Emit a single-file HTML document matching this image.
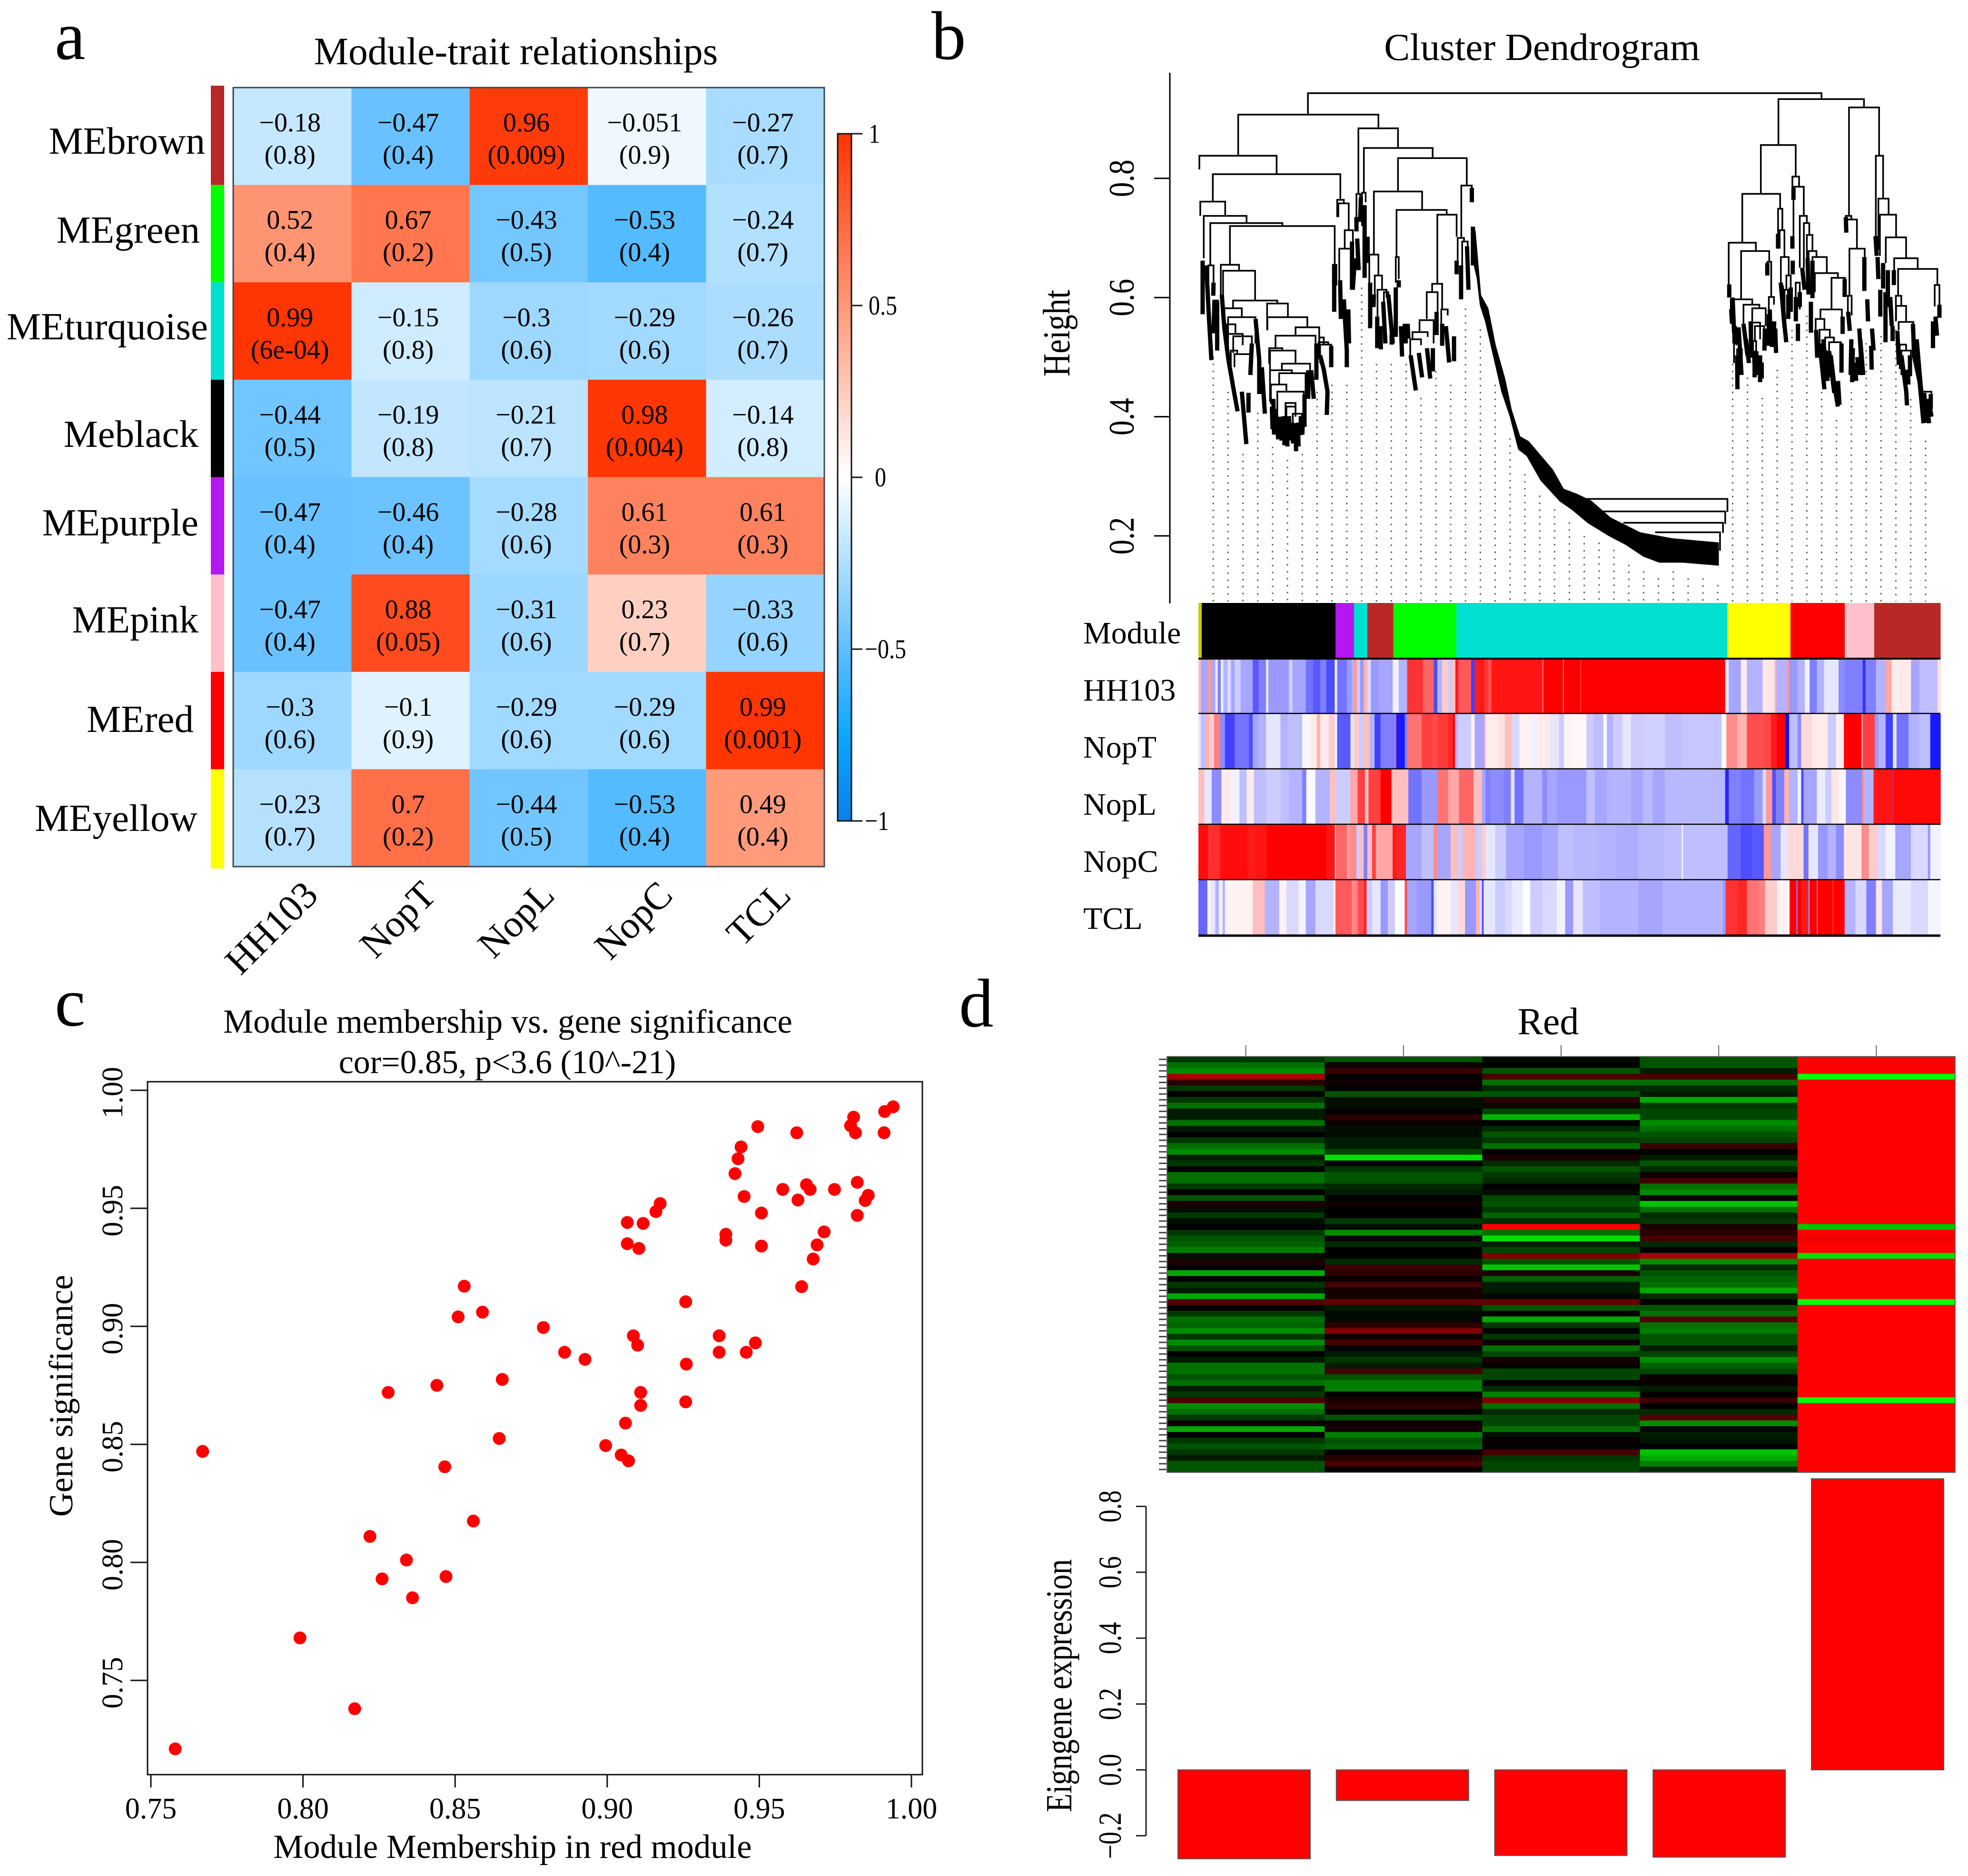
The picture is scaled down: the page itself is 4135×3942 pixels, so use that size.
<!DOCTYPE html>
<html>
<head>
<meta charset="utf-8">
<title>Module-trait figure</title>
<style>
html,body{margin:0;padding:0;background:#fff;}
svg{display:block;}
text{font-family:"Liberation Serif",serif;fill:#000;}
</style>
</head>
<body>
<svg id="fig" xmlns="http://www.w3.org/2000/svg" width="4135" height="3942" viewBox="0 0 4135 3942">
<rect x="0" y="0" width="4135" height="3942" fill="#fff"/>
<text x="115" y="124" font-size="145">a</text>
<text x="1957" y="124" font-size="145">b</text>
<text x="115" y="2155" font-size="145">c</text>
<text x="2015" y="2157" font-size="145">d</text>

<g id="panelA">
<text x="1084" y="135" font-size="81.5" text-anchor="middle">Module-trait relationships</text>
<text x="431" y="323" font-size="81" text-anchor="end">MEbrown</text>
<text x="420" y="510" font-size="81" text-anchor="end">MEgreen</text>
<text x="437" y="713" font-size="81" text-anchor="end">MEturquoise</text>
<text x="417" y="939" font-size="81" text-anchor="end">Meblack</text>
<text x="417" y="1125" font-size="81" text-anchor="end">MEpurple</text>
<text x="417" y="1329" font-size="81" text-anchor="end">MEpink</text>
<text x="407" y="1538" font-size="81" text-anchor="end">MEred</text>
<text x="415" y="1746" font-size="81" text-anchor="end">MEyellow</text>
</g>
<g id="panelB">
<text x="3240" y="126" font-size="81" text-anchor="middle">Cluster Dendrogram</text>
<text transform="translate(2247,700) rotate(-90) scale(1,1.2)" font-size="67" text-anchor="middle">Height</text>
</g>
<g id="panelC">
<text x="1067" y="2170" font-size="70.7" text-anchor="middle">Module membership vs. gene significance</text>
<text x="1066" y="2255" font-size="70" text-anchor="middle">cor=0.85, p&lt;3.6 (10^-21)</text>
<text x="1077" y="3904" font-size="70.7" text-anchor="middle">Module Membership in red module</text>
<text transform="translate(152,2933) rotate(-90)" font-size="70.7" text-anchor="middle">Gene significance</text>
</g>
<g id="panelD">
<text x="3253" y="2173" font-size="80" text-anchor="middle">Red</text>
<text transform="translate(2251,3542) rotate(-90) scale(1,1.2)" font-size="64" text-anchor="middle">Eigngene expression</text>
</g>
</svg>
<script>
/* ---------- panel a data ---------- */
const moduleNames = ['MEbrown','MEgreen','MEturquoise','Meblack','MEpurple','MEpink','MEred','MEyellow'];
const moduleColors = ['#ba2727','#00ff00','#00e0d0','#000000','#b417f0','#ffc0cb','#ff0000','#ffff00'];
const traitNames = ['HH103','NopT','NopL','NopC','TCL'];
const corrValues = [
[-0.18,-0.47,0.96,-0.051,-0.27],
[0.52,0.67,-0.43,-0.53,-0.24],
[0.99,-0.15,-0.3,-0.29,-0.26],
[-0.44,-0.19,-0.21,0.98,-0.14],
[-0.47,-0.46,-0.28,0.61,0.61],
[-0.47,0.88,-0.31,0.23,-0.33],
[-0.3,-0.1,-0.29,-0.29,0.99],
[-0.23,0.7,-0.44,-0.53,0.49]];
const pValues = [
['0.8','0.4','0.009','0.9','0.7'],
['0.4','0.2','0.5','0.4','0.7'],
['6e-04','0.8','0.6','0.6','0.7'],
['0.5','0.8','0.7','0.004','0.8'],
['0.4','0.4','0.6','0.3','0.3'],
['0.4','0.05','0.6','0.7','0.6'],
['0.6','0.9','0.6','0.6','0.001'],
['0.7','0.2','0.5','0.4','0.4']];
const colorbarTicks = [1,0.5,0,-0.5,-1];
const colorbarTickLabels = ['1','0.5','0','\u22120.5','\u22121'];

/* ---------- panel b data ---------- */
const heightTicks = [0.2,0.4,0.6,0.8];
const heightTickLabels = ['0.2','0.4','0.6','0.8'];
/* links: left leaf, right leaf, merge height, left leg bottom height, right leg bottom height */
const dendroLinks = [
[147.6,839.8,.943,.907,.933],[53.6,242.6,.907,.838,.884],[1.3,105.4,.838,.815,.807],[19.4,191.3,.807,.761,.764],
[2.5,36.1,.761,.737,.737],[7.2,64.9,.737,.666,.725],[16,113.2,.725,.654,.72],[42.5,183.7,.72,.655,.655],
[30.2,54.8,.655,.605,.645],[33.2,76.4,.645,.582,.595],[46.7,106.3,.595,.582,.59],[92.6,120.6,.59,.545,.567],
[93,146.8,.567,.545,.55],[130.9,162.8,.55,.536,.523],[103.9,157.9,.536,.515,.519],[95.3,113.2,.515,.489,.511],
[96.5,130.9,.511,.478,.489],[112.5,150.5,.489,.478,.478],[96.5,126,.478,.425,.473],[108.8,144.4,.473,.454,.43],
[97.7,118.6,.454,.421,.442],[106.3,141.9,.442,.385,.385],[117.4,130.9,.423,.38,.41],[118.6,130.9,.417,.37,.40],
[127.2,139.5,.405,.36,.37],[35.1,58.5,.582,.548,.567],[40,76.9,.567,.531,.523],[38.3,49.9,.555,.53,.54],
[40,59.7,.539,.50,.52],[46.9,72,.535,.507,.523],[43.7,52.3,.511,.48,.505],[48.6,69.5,.505,.483,.47],
[13.5,20.4,.654,.564,.625],[20.4,26.5,.595,.54,.544],[181.2,186,.655,.62,.62],[163,169,.533,.52,.52],
[162,175,.525,.5,.52],[164,179,.521,.49,.519],
[215.6,269,.884,.774,.851],[223,315.7,.851,.776,.834],[269,361.7,.834,.778,.788],[236.5,301.5,.778,.672,.747],
[267,334.6,.747,.668,.739],[322,348,.739,.623,.702],[230.3,242.6,.672,.613,.637],[237.7,247.5,.637,.605,.613],
[241.4,253.6,.613,.56,.60],[250,256,.609,.58,.59],[266,270,.668,.625,.631],[315,328.5,.623,.609,.58],
[307.7,322.4,.609,.564,.576],[298,317,.562,.542,.523],[288.5,309,.542,.53,.534],[285.5,300,.53,.50,.52],
[327.3,336,.58,.556,.57],[354.3,368.5,.788,.70,.782],[349.4,358,.70,.662,.694],[355.5,363,.694,.65,.68],
[213,218,.774,.73,.727],[220.5,225.4,.776,.72,.76],[187,196,.764,.735,.758],[188.6,202.6,.758,.735,.713],
[197.2,208.2,.713,.682,.694],[189.8,205.8,.682,.629,.67],
[781.7,897,.933,.856,.919],[876.8,917.4,.919,.737,.838],[758,805,.856,.774,.803],[800.5,809.5,.803,.764,.786],
[802,815.9,.786,.70,.737],[733,784,.774,.692,.749],[714.7,751.3,.692,.621,.678],[731.4,769.3,.678,.597,.66],
[717.5,746.4,.597,.568,.588],[734.6,756,.588,.556,.582],[746.4,764.6,.582,.56,.552],[746.4,757,.558,.52,.53],
[750,762.4,.552,.527,.511],[747.5,751.7,.527,.49,.50],[766.7,772,.66,.637,.601],[768.8,775.7,.601,.572,.588],
[721.8,728.2,.523,.49,.513],[726,732.5,.513,.48,.49],[720.7,725,.548,.523,.52],[781.2,787,.749,.707,.713],
[783.4,789.8,.713,.682,.668],[785,795.6,.668,.625,.637],[792.4,798.3,.637,.613,.584],[790,794.5,.613,.56,.58],
[805,810.5,.625,.60,.58],[810.5,820,.737,.65,.725],[816,823.3,.725,.65,.705],[820,827.6,.705,.65,.678],
[822.3,833,.678,.63,.668],[827.6,846.9,.668,.621,.641],[830.8,861.8,.641,.609,.633],[853.3,871.5,.633,.58,.601],
[838.3,867.2,.58,.564,.54],[831.9,843.7,.564,.546,.546],[837.2,851,.546,.52,.533],[844.7,856.5,.533,.50,.525],
[850,866,.525,.49,.50],[872.5,880,.737,.709,.731],[874,887.5,.731,.709,.682],[877.4,898,.682,.603,.668],
[875.3,880.4,.603,.56,.57],[916.4,930.2,.766,.68,.739],[913,922.8,.838,.702,.766],[918.5,940.3,.739,.67,.701],
[926.4,953.8,.701,.658,.666],[937.7,969.4,.666,.621,.648],[943,995.9,.648,.603,.621],[940,947.3,.603,.56,.586],
[940.3,953.8,.586,.562,.559],[943.7,963.4,.559,.545,.503],[945.2,953.8,.521,.48,.511],[947.4,960.2,.511,.47,.48],
[975,987.9,.442,.425,.413],[992.3,998.7,.621,.585,.568],
[522.5,713,.262,.262,.24],[544,710,.241,.241,.22],[572.6,707,.222,.222,.205],[615.5,703,.206,.206,.175]
];
/* dense leaf clusters: leaf,height,leaf,height... */
const dendroTufts = [
[5.7,.662,5.7,.572],[10.6,.654,14.3,.564,17.5,.495],[20.4,.625,20,.603],[21.6,.595,20.4,.540],[25.3,.593,25.3,.511],
[31.5,.605,35,.548,40.5,.495,47.4,.446,52.8,.409],[58.5,.442,64.6,.354],[72,.523,70,.470],[77,.564,82,.495,82,.438],
[85.5,.483,89.6,.405],[67.5,.440,67.5,.407],[99,.417,100,.379],[104,.413,107.6,.362],[115,.401,116,.352],
[122,.401,123.5,.360],[131,.389,131.6,.342],[138,.401,138,.369],[143,.437,143,.383],[148,.478,148,.430],
[101,.43,102,.37],[110,.40,112,.36],[119,.40,120,.35],[127,.39,127.5,.355],[134,.39,135,.35],[141,.40,140,.37],
[152,.478,155.5,.430],[159,.523,159,.462],[164,.503,169,.479,174,.442,173,.403],[179,.519,179,.483],[183,.654,183,.576],
[191,.629,192,.564],[196,.597,200,.511,200,.483],[202,.580,203,.523],[207,.694,207,.613],[211,.666,208,.613],
[213,.735,213,.711],[214,.699,216,.646],[219,.768,218,.727],[224,.755,224,.633],[228,.702,228,.658],
[231.5,.625,231.5,.552,234,.552],[236.5,.605,236,.584],[241,.568,241,.515],[245,.552,246,.513],[249,.593,252,.523],
[256,.605,262,.523],[260.5,.539,260.5,.521],[266,.617,266,.534],[270,.629,270,.617],[273,.552,274.5,.501],
[278,.556,279.5,.523],[282,.556,283,.531],[286,.503,293,.444],[297,.507,301.5,.466],[308,.515,312.5,.464],
[316,.515,316,.476],[321,.576,321,.537],[328.5,.556,328.5,.519],[333.5,.552,338,.491],[344.5,.535,344.5,.493],
[348,.662,348,.639],[354,.654,354,.597],[362,.686,364,.613],[368.5,.784,368.5,.760],[370,.719,370,.654],
[715.4,.622,715.4,.600],[718,.580,719.2,.556],[722.9,.552,724,.523],[726,.503,726.5,.446],[730.3,.511,730.3,.470],
[720,.60,722,.54],[728,.55,732,.47],[738,.53,742,.49],[752,.51,752,.47],[770,.58,771,.53],[776,.56,775,.52],[786,.62,790,.55],
[734.6,.556,740,.503],[744.2,.560,745.3,.499],[749.6,.511,749.6,.466],[757,.503,757,.458],[759.2,.491,759.2,.464],
[763.5,.548,762.8,.511],[768.8,.572,768.8,.519],[773,.548,773,.517],[777.4,.548,778.5,.507],[766.7,.658,766.7,.637],
[781.2,.707,781.2,.682],[784.9,.625,789,.564,792.3,.525],[795,.605,795,.564],[798.3,.617,798.3,.576],[802,.784,802,.764],
[800.5,.703,800.5,.682],[801,.662,801,.639],[805.2,.601,805.2,.560],[808,.556,808,.527],[810.5,.609,810.5,.584],
[813.7,.650,817,.613],[821,.666,822.3,.605],[825.5,.593,825.5,.541],[827.6,.662,827.6,.599],[832.5,.546,834,.499],
[842,.53,848,.46],[850,.51,857,.44],[862,.46,864,.42],[880,.53,879,.47],[888,.50,890,.47],[892,.53,896,.47],
[837.2,.523,843.7,.446],[846.9,.511,849,.466],[852.2,.503,856.5,.458,861.8,.417],[866.7,.523,866.7,.474],[868.2,.568,868.2,.539],
[871,.631,871,.601],[872.5,.735,873.2,.709],[875.7,.576,877.9,.544],[882,.515,881,.458],[885.4,.491,886.4,.460],
[890.7,.548,894.5,.470],[897.5,.668,897.5,.611],[901.4,.597,902.5,.560],[907.8,.548,910,.511],[906.7,.519,907.4,.479],
[912.5,.703,914.2,.670],[915.3,.668,916.4,.631],[919,.613,919,.568],[922.8,.658,922.8,.615],[926,.609,926,.525],
[929.2,.646,929.2,.584],[932.4,.601,934.5,.552],[935.6,.552,935.6,.527],[937.3,.646,937.3,.621],[942,.544,944,.487],
[947.4,.503,954,.442,955,.419],[959,.503,959,.468],[956,.479,957,.454],[963,.556,964.5,.503,972,.458,977.3,.389],
[968,.53,975,.43],[978,.44,982,.39],[984,.43,988,.40],[981.6,.421,984.8,.389],[987,.438,987,.413],[990,.560,990,.515],
[993.3,.568,995.5,.536],[998.7,.588,998.7,.566]
];
const curtainUpper = [[368,.720],[373.6,.712],[381,.604],[390.8,.582],[400.8,.520],[413.7,.463],[422.3,.412],[433.7,.367],[445.2,.359],[478,.311],[492.4,.279],[509.6,.271],[529.7,.259],[555.4,.231],[595.5,.206],[638.5,.196],[701.4,.189]];
const curtainLower = [[701.4,.150],[652.8,.155],[621.3,.155],[599.8,.165],[575.5,.185],[552.6,.200],[524,.222],[504,.243],[486.7,.258],[461,.293],[442.3,.334],[430.9,.345],[419.4,.401],[408,.443],[398,.497],[386.5,.559],[379.3,.587],[375,.633],[370.8,.655],[368,.695]];
/* top height of each dotted guide column, one column per 20 leaves */
const guideTops = [.507,.448,.344,.413,.356,.334,.344,.448,.46,.46,.623,.495,.495,.495,.438,.483,.46,.588,.553,.46,.37,.31,.274,.251,.229,.206,.195,.183,.158,.147,.135,.147,.135,.135,.124,.495,.472,.438,.485,.552,.576,.448,.401,.448,.53,.542,.552,.436,.366];
const moduleRuns = [['#c8c800',4.5],['#000000',180],['#b417f0',25],['#00e0d0',18],['#ba2727',35],['#00ff00',85],['#00e0d0',365],['#ffff00',85],['#ff0000',73],['#ffc0cb',40],['#ba2727',89]];
const stripeLabels = ['HH103','NopT','NopL','NopC','TCL'];
/* trait-significance runs: [gene count, signed significance] */
const runsHH103 = [[10,.25],[30,-.35],[15,.4],[15,-.35],[10,.1],[13,-.5],[10,-.05],[17,-.3],[15,-.15],[15,-.35],[25,-.2],[50,-.35],[25,-.65],[30,-.5],[10,-.1],[85,-.4],[15,-.2],[55,-.35],[30,-.55],[30,-.65],[25,-.5],[35,-.7],[10,-.05],[40,-.55],[20,-.4],[10,-.3],[12,.4],[13,-.2],[15,-.4],[15,.3],[15,-.15],[30,-.4],[60,-.35],[25,-.05],[35,-.3],[65,.8],[15,.6],[30,.6],[15,-.7],[20,-.3],[25,.2],[15,-.2],[15,.25],[12,.9],[53,.65],[15,-.75],[40,.9],[15,.8],[15,.7],[40,.92],[170,.92],[5,.6],[80,1],[5,.6],[38,1],[30,1],[3,.7],[597,1],[15,-.1],[50,-.35],[25,.08],[65,-.3],[50,.1],[7,.3],[43,-.3],[10,.4],[35,-.4],[30,-.3],[20,-.05],[30,-.5],[30,-.3],[60,-.1],[25,-.45],[75,-.5],[12,-.8],[43,-.5],[40,-.3],[25,.35],[80,.08],[35,-.35],[75,-.25],[12,.12]];
const runsNopT = [[10,-.1],[20,-.25],[15,.3],[20,.2],[25,.5],[20,-.45],[40,-.75],[40,-.55],[20,-.55],[15,-.7],[25,-.35],[30,-.3],[60,-.1],[30,-.3],[60,-.25],[35,-.03],[25,.08],[15,.3],[35,.08],[25,.2],[10,-.05],[55,-.65],[15,-.1],[20,.2],[20,-.2],[25,.25],[20,-.3],[25,-.75],[60,-.5],[5,.6],[35,-.9],[10,-.5],[60,.55],[45,.75],[20,.7],[45,.78],[20,.85],[8,1],[12,-.3],[55,-.2],[15,.05],[40,-.35],[5,.3],[55,.08],[25,.12],[30,.25],[30,-.15],[50,.05],[25,-.05],[50,.08],[40,-.1],[20,-.2],[38,.05],[55,.03],[30,-.2],[40,-.25],[15,-.03],[25,-.3],[40,-.2],[35,-.1],[50,-.2],[90,-.18],[70,-.25],[165,-.22],[20,-.02],[45,.45],[40,.3],[75,.7],[25,.72],[25,.9],[35,1],[15,-.95],[35,-.25],[15,-.45],[45,.15],[65,.08],[35,-.2],[32,.06],[73,1],[5,.3],[50,.75],[15,-.4],[30,-.3],[30,-.75],[15,-.1],[50,-.55],[45,-.3],[45,-.25],[42,-.9]];
const runsNopL = [[25,.25],[30,-.1],[40,-.45],[40,.08],[35,-.05],[30,-.25],[30,.08],[50,-.25],[60,-.2],[35,-.25],[55,-.3],[17,-.5],[38,-.02],[60,-.3],[25,.25],[60,-.2],[30,.35],[30,.75],[15,.25],[50,.75],[45,1],[70,.25],[55,-.55],[65,-.4],[45,.55],[45,.35],[60,.6],[35,.25],[15,-.35],[20,-.5],[55,-.45],[30,-.5],[15,-.1],[37,-.55],[78,-.3],[20,-.45],[40,-.35],[68,-.4],[55,-.4],[35,-.25],[50,-.35],[100,-.3],[50,-.35],[40,-.28],[50,-.35],[120,-.28],[130,-.28],[15,-.85],[50,-.5],[55,-.55],[35,-.4],[15,-.15],[25,.4],[15,-.7],[35,-.5],[20,.3],[35,-.3],[15,-.05],[10,-.7],[55,-.35],[35,-.08],[25,-.2],[30,.1],[30,.03],[65,-.45],[7,.5],[43,-.3],[15,.9],[65,.92],[3,-.7],[194,.97]];
const runsNopC = [[40,.95],[10,.8],[40,.82],[115,.95],[30,.9],[50,.92],[245,1],[35,.92],[5,.3],[45,.6],[15,.4],[25,.45],[15,-.2],[15,.25],[15,-.5],[20,.25],[15,.75],[70,.35],[15,.9],[40,.85],[65,-.35],[50,-.25],[15,.45],[55,-.35],[30,.25],[20,-.2],[55,.3],[25,-.2],[15,.2],[40,-.1],[45,-.2],[75,-.35],[75,-.4],[65,-.35],[63,-.25],[100,-.28],[80,-.3],[90,-.32],[110,-.28],[70,-.25],[5,-.02],[185,-.25],[55,-.6],[45,-.7],[50,-.65],[30,.4],[40,-.35],[30,-.1],[65,.15],[20,-.55],[40,-.1],[40,-.4],[35,-.3],[32,-.45],[73,.1],[30,.45],[35,.2],[35,-.15],[40,-.05],[65,-.35],[70,-.15],[10,-.4],[42,-.05]];
const runsTCL = [[37,-.6],[13,.05],[20,-.1],[15,-.3],[15,-.05],[10,-.3],[40,.05],[75,.05],[50,.25],[60,-.3],[30,.05],[50,-.15],[30,-.05],[40,-.35],[25,-.15],[50,-.15],[8,.08],[67,.65],[10,.45],[15,.5],[25,.7],[12,.85],[23,-.2],[35,-.1],[30,-.4],[30,-.2],[40,0],[10,.7],[40,-.35],[60,-.4],[10,-.7],[15,-.1],[25,.05],[30,.05],[30,-.1],[30,.15],[45,-.4],[15,.3],[10,-.15],[7,-.7],[48,-.1],[40,-.2],[30,-.15],[45,-.08],[30,0],[50,-.2],[60,-.15],[35,-.05],[33,-.4],[40,-.1],[70,-.25],[160,-.3],[100,-.35],[250,-.3],[12,-.4],[48,.8],[40,.85],[50,.55],[25,.5],[50,.2],[52,.05],[28,1],[5,-.5],[15,1],[30,.9],[5,-.4],[30,1],[3,-.4],[62,1],[5,.8],[45,1],[45,-.3],[45,-.15],[40,-.5],[25,.1],[45,-.35],[75,-.08],[70,-.15],[52,-.04]];

/* ---------- panel c data ---------- */
const scatterXTicks = [0.75,0.80,0.85,0.90,0.95,1.00];
const scatterYTicks = [0.75,0.80,0.85,0.90,0.95,1.00];
const scatterTickLabels = ['0.75','0.80','0.85','0.90','0.95','1.00'];
const moduleMembership = [.758,.767,.799,.817,.822,.826,.828,.834,.836,.844,.8466,.847,.851,.853,.856,.859,.8645,.8655,.879,.886,.8927,.8995,.9046,.907,.906,.911,.911,.9086,.910,.9258,.926,.9258,.9368,.9368,.9457,.9487,.9066,.9066,.9104,.9118,.916,.9174,.939,.939,.942,.943,.944,.945,.9495,.9507,.9507,.9577,.9623,.9627,.9639,.9655,.9667,.9677,.969,.9713,.9747,.980,.981,.9816,.9822,.9822,.9848,.9858,.991,.9912,.994];
const geneSignificance = [.721,.847,.768,.738,.811,.793,.872,.801,.785,.875,.8405,.794,.904,.917,.8175,.906,.8525,.8775,.8995,.889,.886,.8495,.8455,.843,.859,.8665,.872,.896,.892,.9104,.884,.868,.896,.889,.889,.893,.944,.935,.933,.9436,.9486,.952,.939,.9365,.9647,.971,.976,.955,.9846,.948,.934,.958,.982,.9535,.9168,.960,.958,.9285,.9345,.940,.958,.985,.9886,.982,.961,.947,.9533,.9555,.982,.991,.993];

/* ---------- panel d data: expression z-score in tenths, one row per gene ---------- */
const exprSample1 = [-2,-4,-5,6,1.5,-2,0,-2,-4,-1,-1,-4,-1,0,-2,-4,-5,-1,-2,0,-4,-4,-2,0,-3,1,-.5,-2,-.5,0,-2,-3,-3.5,-4.5,-.5,1,0,-6,0,-2,-1,-6,3,0,-2,-4,-3.5,-5,-2,-5,-3,0,-1,-4,-4,-3,-4,-1,-2,2.5,-5,-4,-2,.5,-6,0,-2,-3,-2,-1,-3,-3];
const exprSample2 = [-3,.5,2,0,.5,0,-3,-.5,-.5,0,1.5,.5,-.5,-.5,-1,-1,-2.5,-8,0,-2,-3,-3,-1.5,-1,0,.5,0,0,-2,-.5,-5,.3,-1.5,0,0,-1.5,2,1.5,.5,2.5,.7,.7,3.5,-1,-.3,-.3,1.5,4.5,.5,2.5,0,-1,-2,-1,2.5,-3,-4.5,-4.5,0,1,1.5,0,-3,.5,.7,-4.5,-3,-3.5,.3,1.5,2.5,0];
const exprSample3 = [-.3,0,-3,2.5,-4,-1.5,-3,1.5,.5,-2.5,-6.5,0,-1.5,-3,-2,-4,0,1,-1.5,-3,-2,-1.5,0,-.5,-2.5,-3,-2,-3.5,-1.5,9,-4,-8,-1,-2.5,4.5,-3,-7,.8,-3.5,-1,-1,-.3,3.5,-3,0,-6,-2,0,-2,.3,-4,-2.5,.7,.3,-2.5,-2.5,0,-1.5,-4.5,4.5,-4,-1.5,-2.5,-2.5,-4,-.5,.3,0,2.5,-2,-2.5,-2.5];
const exprSample4 = [-3,-3,-1,2.5,-4,-1.5,-1,-6,-2,-2.5,-2.5,-5,-4,-3,-2.5,2,0,-1,-3,-1.5,.5,2.5,-4,-5,0,-7,-4,-1.5,-2,1,1.5,2.5,-1.5,0,6,-5,-1.5,-3,-3.5,-4,-6,-1.5,0,-3,-4,3,-4,-4.5,-3,-3,-1,-2.5,-5,-3.5,-2.5,.5,.3,-1,0,2,0,-1.5,3,-5,.2,-1,-.7,0,-7,-6,-4.5,-1.5];
const exprSample5 = [10,10,10,-10,10,10,10,10,10,10,10,10,10,10,10,10,10,10,10,10,10,10,10,10,10,9,10,10,10,-7,9.5,8.5,10,10,-8,9.5,9,9,10,10,10,10,-10,10,10,10,10,9.5,10,10,10,10,10,10,10,10,10,10,10,-10,10,10,10,10,10,10,10,10,10,10,10,10];
const eigengeneValues = [-0.27,-0.093,-0.26,-0.265,0.884];
const eigenTicks = [-0.2,0,0.2,0.4,0.6,0.8];
const eigenTickLabels = ['\u22120.2','0.0','0.2','0.4','0.6','0.8'];

/* ---------- helpers ---------- */
const NS = 'http://www.w3.org/2000/svg';
function make(tag, attrs, parent, txt){
  const n = document.createElementNS(NS, tag);
  for (const k in attrs) n.setAttribute(k, attrs[k]);
  if (txt !== undefined) n.textContent = txt;
  parent.appendChild(n);
  return n;
}
let el;
const panelA = document.getElementById('panelA');
const panelB = document.getElementById('panelB');
const panelC = document.getElementById('panelC');
const panelD = document.getElementById('panelD');

/* ---------- panel a ---------- */
const heatLeft = 490, heatRight = 1732, heatTop = 184, heatBottom = 1821;
const colX = i => heatLeft + i * (heatRight - heatLeft) / traitNames.length;
const rowY = i => heatTop + i * (heatBottom - heatTop) / moduleNames.length;
const colorStops = [[-1,[10,127,232]],[-0.75,[10,168,255]],[-0.5,[95,190,255]],[0,[255,255,255]],[0.5,[255,152,120]],[1,[255,51,0]]];
function corrColor(v){
  for (let i = 0; i < colorStops.length - 1; i++){
    const a = colorStops[i], b = colorStops[i+1];
    if (v <= b[0]){
      const t = Math.max(0, (v - a[0]) / (b[0] - a[0]));
      const c = a[1].map((p, k) => Math.round(p + (b[1][k] - p) * t));
      return 'rgb(' + c.join(',') + ')';
    }
  }
  return 'rgb(255,51,0)';
}
moduleColors.forEach((c, i) => {
  el = make('rect', {x:443, y:rowY(i) - (i === 0 ? 4 : 0), width:28, height:(heatBottom-heatTop)/8 + (i === 0 || i === 7 ? 4 : 0), fill:c}, panelA);
  
  
});
corrValues.forEach((row, r) => {
  row.forEach((v, c) => {
    el = make('rect', {x:colX(c), y:rowY(r), width:colX(c+1)-colX(c)+0.5, height:rowY(r+1)-rowY(r)+0.5, fill:corrColor(v)}, panelA);
    
    
  });
});
corrValues.forEach((row, r) => {
  row.forEach((v, c) => {
    const cx = (colX(c) + colX(c+1)) / 2 - 5;
    el = make('text', {x:cx, y:rowY(r)+92, 'font-size':56, 'text-anchor':'middle'}, panelA, (v < 0 ? '\u2212' : '') + Math.abs(v));
    
    
    el = make('text', {x:cx, y:rowY(r)+160, 'font-size':56, 'text-anchor':'middle'}, panelA, '(' + pValues[r][c] + ')');
    
    
  });
});
el = make('rect', {x:heatLeft, y:heatTop, width:heatRight-heatLeft, height:heatBottom-heatTop, fill:'none', stroke:'#3c4650', 'stroke-width':3}, panelA);


traitNames.forEach((t, i) => {
  const ex = (colX(i) + colX(i+1)) / 2 + 58;
  el = make('text', {transform:'translate(' + ex + ',1885) rotate(-45)', 'font-size':80, 'text-anchor':'end'}, panelA, t);
  
  
});
/* colorbar */
const barY = v => 1003 - v * 722;
const gradDefs = make('defs', {}, panelA);
const grad = make('linearGradient', {id:'cbGrad', x1:0, y1:0, x2:0, y2:1}, gradDefs);
[1,0.75,0.5,0.25,0,-0.25,-0.5,-0.75,-1].forEach(v => {
  make('stop', {offset:((1 - v) / 2), 'stop-color':corrColor(v)}, grad);
});
el = make('rect', {x:1760, y:barY(1), width:29, height:barY(-1)-barY(1), fill:'url(#cbGrad)', stroke:'#111', 'stroke-width':3}, panelA);


colorbarTicks.forEach((v, i) => {
  el = make('line', {x1:1789, x2:1812, y1:barY(v), y2:barY(v), stroke:'#111', 'stroke-width':3}, panelA);
  
  
  const lx = v === 0 ? 1838 : (v < 0 ? 1817 : 1825);
  el = make('text', {transform:'translate(' + lx + ',' + (barY(v)+19) + ') scale(1,1.2)', 'font-size':48}, panelA, colorbarTickLabels[i]);
  
  
});

/* ---------- panel b ---------- */
const leafX = L => 2518 + L * 1.559;
const heightY = h => 1126 - (h - 0.2) * 1252;
el = make('line', {x1:2458, x2:2458, y1:153, y2:1268, stroke:'#000', 'stroke-width':3}, panelB);


heightTicks.forEach((v, i) => {
  el = make('line', {x1:2425, x2:2458, y1:heightY(v), y2:heightY(v), stroke:'#000', 'stroke-width':3}, panelB);
  
  
  el = make('text', {transform:'translate(2382,' + heightY(v) + ') rotate(-90) scale(1,1.2)', 'font-size':63, 'text-anchor':'middle'}, panelB, heightTickLabels[i]);
  
  
});
guideTops.forEach((h, i) => {
  el = make('line', {x1:leafX((i+1)*20), x2:leafX((i+1)*20), y1:heightY(h)+8, y2:1264, stroke:'#555', 'stroke-width':3, 'stroke-dasharray':'3 11.6'}, panelB);
  
  
});
dendroLinks.forEach(k => {
  const d = 'M' + leafX(k[0]) + ' ' + heightY(k[3]) + 'V' + heightY(k[2]) + 'H' + leafX(k[1]) + 'V' + heightY(k[4]);
  el = make('path', {d:d, fill:'none', stroke:'#000', 'stroke-width':3.5}, panelB);
  
  
});
dendroTufts.forEach(t => {
  let pts = '';
  for (let i = 0; i < t.length; i += 2) pts += leafX(t[i]) + ',' + heightY(t[i+1]) + ' ';
  el = make('polyline', {points:pts, fill:'none', stroke:'#000', 'stroke-width':9}, panelB);
  
  
});
el = make('polygon', {points:curtainUpper.concat(curtainLower).map(p => leafX(p[0]) + ',' + heightY(p[1])).join(' '), fill:'#000'}, panelB);



const moduleTotal = moduleRuns.reduce((a, r) => a + r[1], 0);
const stripLeft = 2518, stripRight = 4077;
let cum = 0;
moduleRuns.forEach(r => {
  const x0 = stripLeft + cum / moduleTotal * (stripRight - stripLeft);
  cum += r[1];
  const x1 = stripLeft + cum / moduleTotal * (stripRight - stripLeft);
  el = make('rect', {x:x0, y:1267, width:x1-x0+0.5, height:117, fill:r[0], 'shape-rendering':'crispEdges'}, panelB);
  
  
});
function sigColor(v){
  const a = Math.round(255 * (1 - Math.abs(v)));
  return v >= 0 ? 'rgb(255,' + a + ',' + a + ')' : 'rgb(' + a + ',' + a + ',255)';
}
const stripeRows = [runsHH103, runsNopT, runsNopL, runsNopC, runsTCL];
const stripeRowY = i => 1384 + i * 116.4;
stripeRows.forEach((runs, r) => {
  const total = runs.reduce((a, s) => a + s[0], 0);
  let c = 0;
  runs.forEach(s => {
    const x0 = stripLeft + c / total * (stripRight - stripLeft);
    c += s[0];
    const x1 = stripLeft + c / total * (stripRight - stripLeft);
    el = make('rect', {x:x0, y:stripeRowY(r), width:x1-x0+0.6, height:116.4, fill:sigColor(s[1])}, panelB);
    
    
  });
  el = make('line', {x1:stripLeft, x2:stripRight, y1:stripeRowY(r+1), y2:stripeRowY(r+1), stroke:'#000', 'stroke-width':5}, panelB);
  
  
});
el = make('line', {x1:stripLeft, x2:stripRight, y1:1384, y2:1384, stroke:'#000', 'stroke-width':4}, panelB);


el = make('text', {x:2276, y:1352, 'font-size':66}, panelB, 'Module');


stripeLabels.forEach((t, i) => {
  el = make('text', {x:2276, y:1472 + i * 120, 'font-size':66}, panelB, t);
  
  
});

/* ---------- panel c ---------- */
const scX = v => 317 + (v - 0.75) * 6392;
const scY = v => 3531 - (v - 0.75) * 4960;
el = make('rect', {x:310, y:2273, width:1628, height:1456, fill:'none', stroke:'#111', 'stroke-width':3}, panelC);


scatterXTicks.forEach((v, i) => {
  el = make('line', {x1:scX(v), x2:scX(v), y1:3729, y2:3756, stroke:'#111', 'stroke-width':3}, panelC);
  
  
  el = make('text', {x:scX(v), y:3821, 'font-size':62, 'text-anchor':'middle'}, panelC, scatterTickLabels[i]);
  
  
});
scatterYTicks.forEach((v, i) => {
  el = make('line', {x1:274, x2:310, y1:scY(v), y2:scY(v), stroke:'#111', 'stroke-width':3}, panelC);
  
  
  el = make('text', {transform:'translate(257,' + (scY(v)+5) + ') rotate(-90)', 'font-size':62, 'text-anchor':'middle'}, panelC, scatterTickLabels[i]);
  
  
});
moduleMembership.forEach((mm, i) => {
  el = make('circle', {cx:scX(mm), cy:scY(geneSignificance[i]), r:13.5, fill:'#f00'}, panelC);
  
  
});

/* ---------- panel d ---------- */
const exprCols = [exprSample1, exprSample2, exprSample3, exprSample4, exprSample5];
const hmLeft = 2452, hmRight = 4108, hmTop = 2220, hmBottom = 3094;
const hmX = i => hmLeft + i * (hmRight - hmLeft) / exprCols.length;
const hmY = i => hmTop + i * (hmBottom - hmTop) / exprSample1.length;
function exprColor(v){
  const a = Math.min(255, Math.round(Math.abs(v) * 28));
  return v >= 0 ? 'rgb(' + a + ',0,0)' : 'rgb(0,' + a + ',0)';
}
exprCols.forEach((col, c) => {
  col.forEach((v, r) => {
    el = make('rect', {x:hmX(c), y:hmY(r), width:hmX(c+1)-hmX(c)+0.5, height:hmY(r+1)-hmY(r)+0.5, fill:exprColor(v)}, panelD);
    
    
  });
  el = make('line', {x1:(hmX(c)+hmX(c+1))/2, x2:(hmX(c)+hmX(c+1))/2, y1:2196, y2:2220, stroke:'#666', 'stroke-width':2}, panelD);
  
  
});
exprSample1.forEach((v, r) => {
  el = make('line', {x1:2435, x2:2452, y1:hmY(r)+6, y2:hmY(r)+6, stroke:'#444', 'stroke-width':3}, panelD);
  
  
});
el = make('rect', {x:hmLeft, y:hmTop, width:hmRight-hmLeft, height:hmBottom-hmTop, fill:'none', stroke:'#666', 'stroke-width':2}, panelD);


const eigY = v => 3719 - v * 692;
eigengeneValues.forEach((v, i) => {
  const top = Math.min(eigY(v), eigY(0)), h = Math.abs(eigY(v) - eigY(0));
  el = make('rect', {x:2475 + i * 332.75, y:top, width:278, height:h, fill:'#f00', stroke:'#555', 'stroke-width':2}, panelD);
  
  
});
el = make('line', {x1:2408, x2:2408, y1:eigY(0.8), y2:eigY(-0.2), stroke:'#222', 'stroke-width':3}, panelD);


eigenTicks.forEach((v, i) => {
  el = make('line', {x1:2387, x2:2408, y1:eigY(v), y2:eigY(v), stroke:'#222', 'stroke-width':3}, panelD);
  
  
  el = make('text', {transform:'translate(2355,' + eigY(v) + ') rotate(-90) scale(1,1.25)', 'font-size':54, 'text-anchor':'middle'}, panelD, eigenTickLabels[i]);
  
  
});
</script>
</body>
</html>
